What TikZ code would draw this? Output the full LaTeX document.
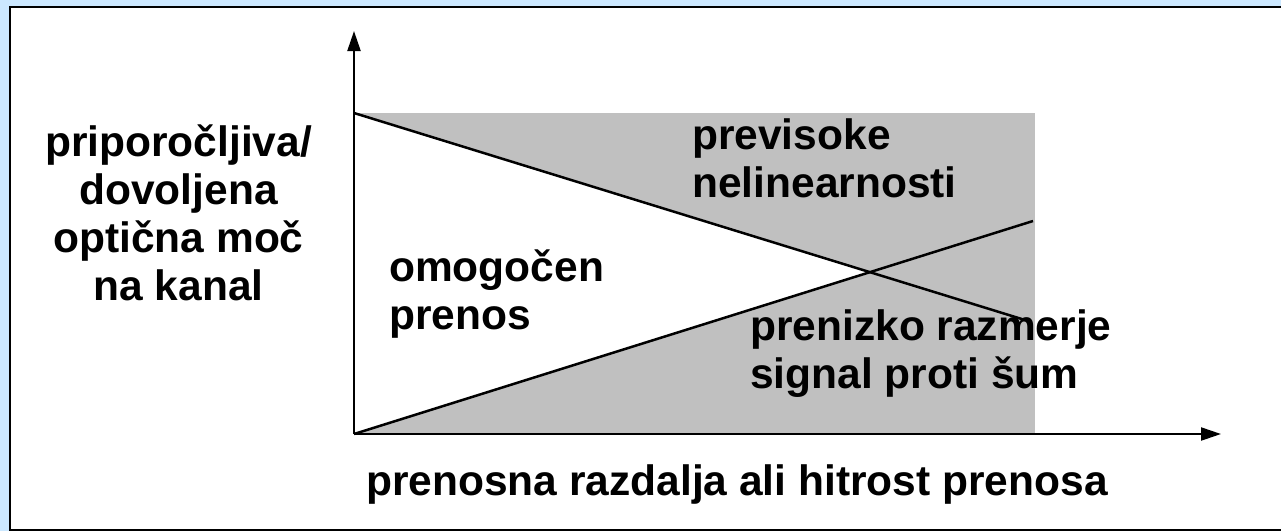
\documentclass[tikz,border=0pt]{standalone}
\usepackage{fontspec}
\setmainfont{Liberation Sans}
\usetikzlibrary{arrows.meta,intersections}
\definecolor{skyback}{HTML}{CCE8FF}
\definecolor{zonegray}{HTML}{C0C0C0}
\tikzset{
  lbl/.style={font=\fontsize{42.5}{48}\selectfont\bfseries, inner sep=0pt},
  axis/.style={line width=2.2pt, -{Triangle[length=20pt,width=13pt]}},
  bound/.style={line width=2.5pt}
}
\begin{document}
\begin{tikzpicture}[x=1pt,y=-1pt]
  \useasboundingbox (0,0) rectangle (1281,531);
  \fill[skyback] (0,0) rectangle (1281,531);
  \draw[line width=2pt, fill=white] (10,7) rectangle (1300,530);
  % axes and limits
  \coordinate (o) at (354,434);
  \coordinate (ytip) at (354,31);
  \coordinate (xtip) at (1221,434);
  \coordinate (hi0) at (354,113);
  \coordinate (hi1) at (1025,320);
  \coordinate (lo1) at (1033,221);
  \fill[zonegray] (hi0) rectangle (1035,434);
  \path[name path=hiline] (hi0) -- (hi1);
  \path[name path=loline] (o) -- (lo1);
  \fill[white, name intersections={of=hiline and loline, by=cross}]
    (hi0) -- (cross) -- (o) -- cycle;
  \draw[bound] (hi0) -- (hi1);
  \draw[bound] (o) -- (lo1);
  \draw[axis] (o) -- (ytip);
  \draw[axis] (o) -- (xtip);
  % labels
  \node[lbl, align=center] (ylabel) at (178.5,213) {priporočljiva/\\dovoljena\\optična moč\\na kanal};
  \node[lbl, align=left, anchor=west] (nonlin) at (692,158) {previsoke\\nelinearnosti};
  \node[lbl, align=left, anchor=west] (okzone) at (389,294) {omogočen\\prenos};
  \node[lbl, align=left, anchor=west] (snr) at (750,354) {prenizko razmerje\\signal proti šum};
  \node[lbl, anchor=base] (xlabel) at (737,495) {prenosna razdalja ali hitrost prenosa};
\end{tikzpicture}
\end{document}
